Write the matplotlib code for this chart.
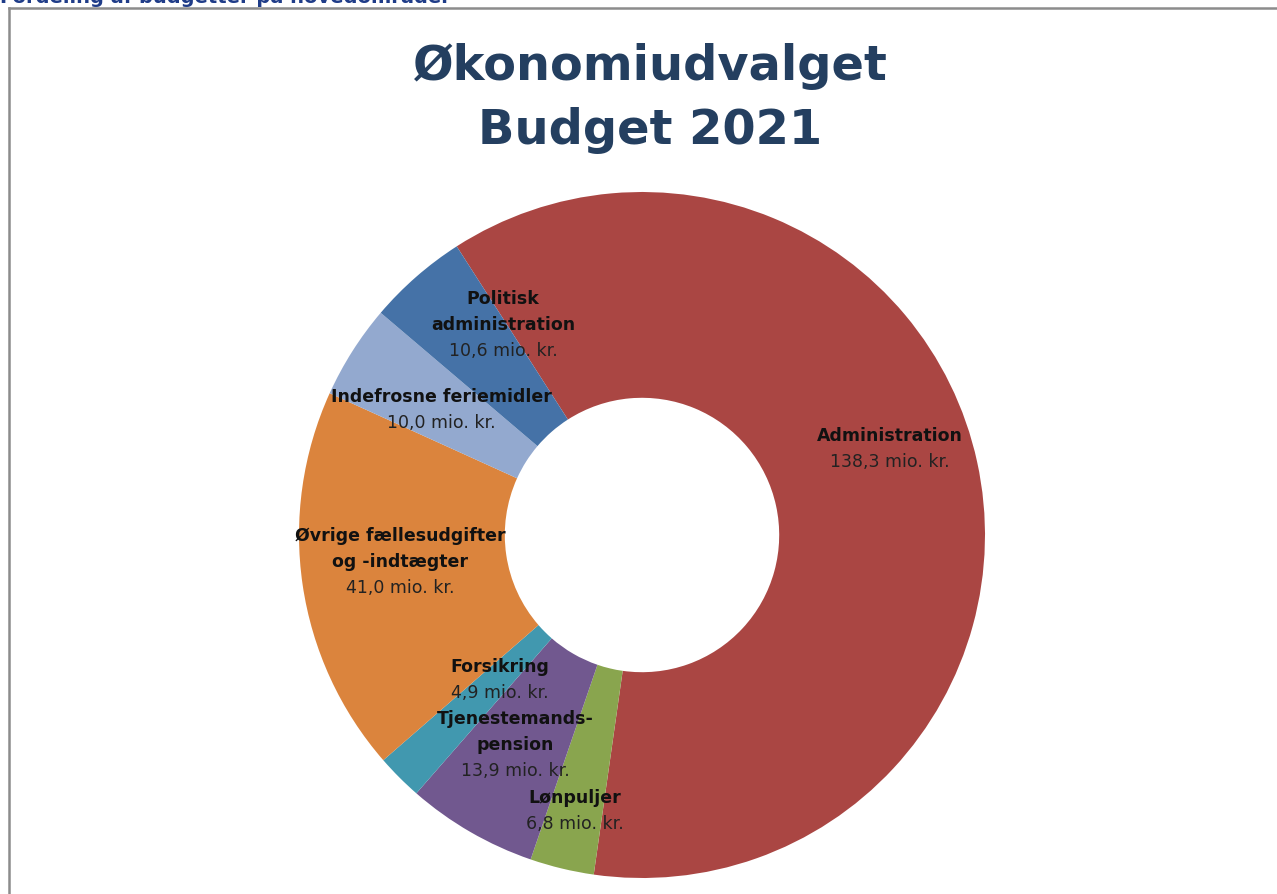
import matplotlib.pyplot as plt
from matplotlib.lines import Line2D

plt.rcParams['font.family'] = ['DejaVu Sans']

names = ['Administration', 'Lønpuljer', 'Tjenestemands-\npension', 'Forsikring',
         'Øvrige fællesudgifter\nog -indtægter', 'Indefrosne feriemidler',
         'Politisk\nadministration']
values = [138.3, 6.8, 13.9, 4.9, 41.0, 10.0, 10.6]
value_labels = ['138,3 mio. kr.', '6,8 mio. kr.', '13,9 mio. kr.', '4,9 mio. kr.',
                '41,0 mio. kr.', '10,0 mio. kr.', '10,6 mio. kr.']
colors = ['#AA4643', '#89A54E', '#71588F', '#4198AF', '#DB843D', '#93A9CF', '#4572A7']

# label block centres (pie radius = 1), set by hand as in the original chart
label_pos = [(0.723, 0.254), (-0.195, -0.802), (-0.370, -0.609), (-0.414, -0.420),
             (-0.706, -0.076), (-0.586, 0.367), (-0.405, 0.615)]

W, H = 1277, 895
fig = plt.figure(figsize=(W / 100, H / 100), dpi=100)

cx, cy, R = 642, 536, 343
ax = fig.add_axes([(cx - R) / W, (H - cy - R) / H, 2 * R / W, 2 * R / H])

wedges, _ = ax.pie(values, colors=colors, startangle=122.7, counterclock=False,
                   radius=1, wedgeprops=dict(width=0.6, linewidth=0))
for w in wedges:
    w.set_clip_on(False)
ax.set_xlim(-1, 1)
ax.set_ylim(-1, 1)
ax.axis('off')

step = 26 / R
for name, val, (x, y) in zip(names, value_labels, label_pos):
    lines = name.split('\n')
    n = len(lines) + 1
    y0 = y + (n - 1) / 2 * step
    for i, ln in enumerate(lines):
        ax.text(x, y0 - i * step, ln, ha='center', va='center', fontsize=12.5,
                fontweight='bold', color='#111111')
    ax.text(x, y0 - len(lines) * step, val, ha='center', va='center',
            fontsize=12.5, color='#222222')

fig.text(650 / W, 1 - 66 / H, 'Økonomiudvalget', ha='center', va='center',
         fontsize=34.5, fontweight='bold', color='#243F60')
fig.text(650 / W, 1 - 131 / H, 'Budget 2021', ha='center', va='center',
         fontsize=34.5, fontweight='bold', color='#243F60')

# cut-off heading above the frame (only its lower half shows, as in the original)
fig.text(0, 1 + 4 / H, 'Fordeling af budgetter på hovedområder', ha='left',
         va='center', fontsize=14, fontweight='bold', color='#1F3C88')

# frame
fig.add_artist(Line2D([9 / W, 1], [1 - 9 / H, 1 - 9 / H], color='#8C8C8C', lw=1.8))
fig.add_artist(Line2D([9 / W, 9 / W], [0, 1 - 9 / H], color='#8C8C8C', lw=1.8))

fig.savefig('out.png', dpi=100)
